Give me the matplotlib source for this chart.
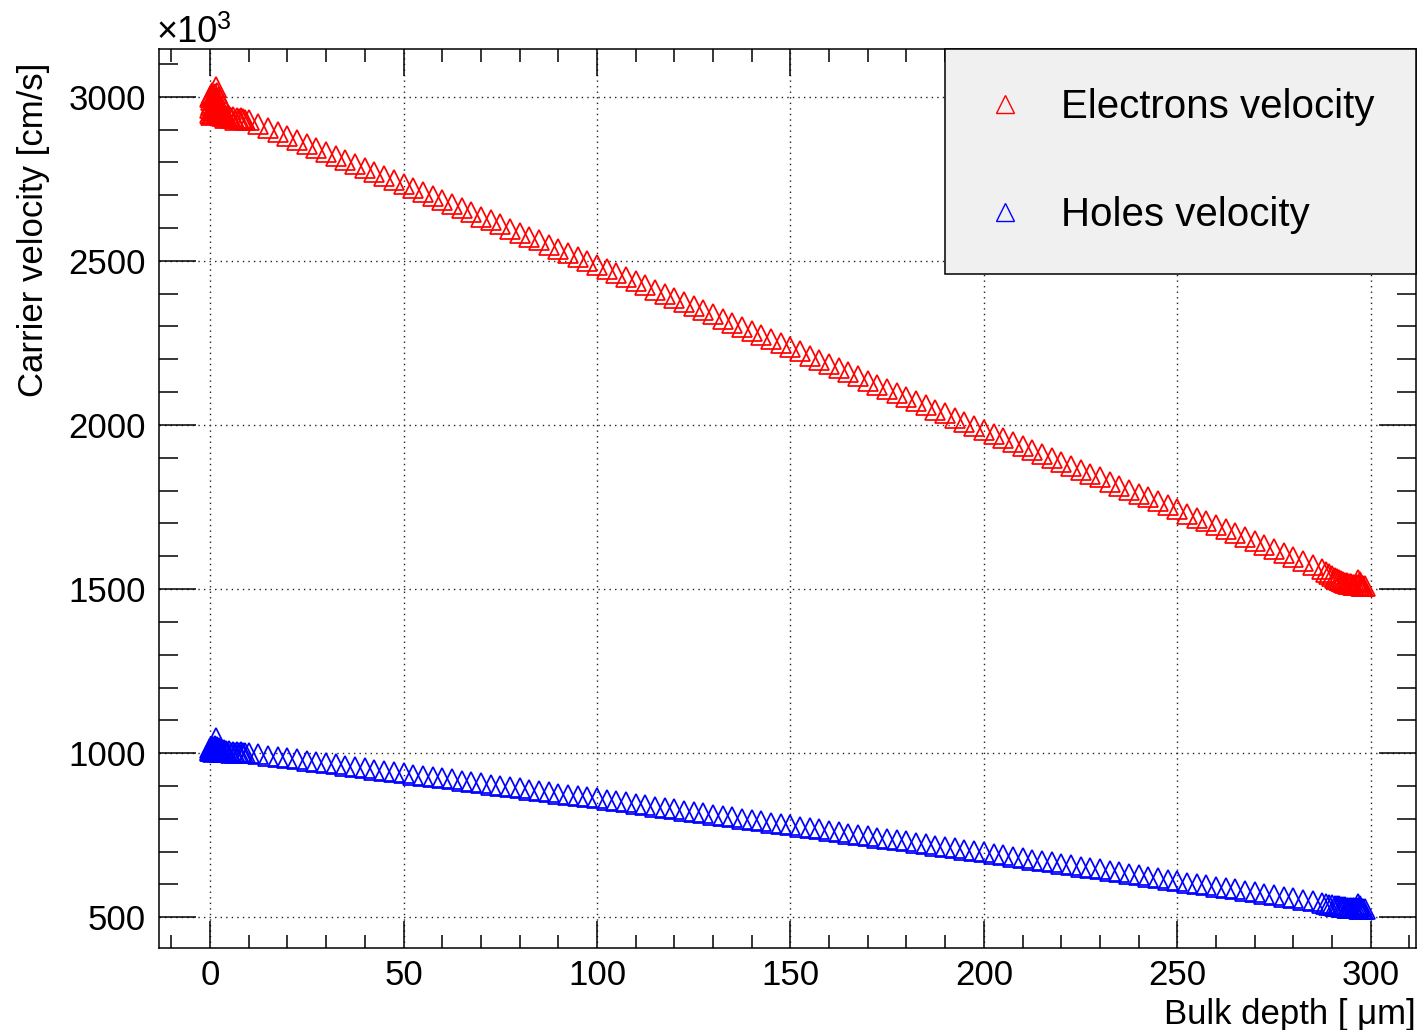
import matplotlib
matplotlib.use("Agg")
import matplotlib.pyplot as plt
from matplotlib.ticker import MultipleLocator
import numpy as np

plt.rcParams["font.family"] = ["Liberation Sans", "DejaVu Sans"]

# Drift velocities along the sensor bulk, in units of 10^3 cm/s

# Region next to the front electrode (dense steps)
depth_start = [0.0, 0.05, 0.1, 0.15, 0.2, 0.25, 0.3, 0.4, 0.5, 0.6,
               0.7, 0.8, 0.9, 1.0, 1.1, 1.2, 1.3, 1.4, 1.5, 1.6,
               1.7, 1.8, 1.9, 2.0, 2.1, 2.2, 2.3, 2.4, 2.5, 2.6,
               2.8, 3.0, 3.2, 3.5, 3.8, 4.1, 4.5, 5.0, 5.5, 6.0,
               6.5, 7.0, 7.5, 8.0, 8.5, 9.0]
electrons_start = [2950, 2998, 2965, 3005, 2975, 2945, 2990, 3010, 2960, 2982,
                   2948, 3002, 2970, 2992, 2955, 3008, 2980, 2962, 3028, 2995,
                   2950, 3012, 2972, 2985, 2958, 3000, 2968, 2946, 2990, 2955,
                   2945, 2950, 2940, 2946, 2936, 2942, 2938, 2940, 2934, 2938,
                   2930, 2936, 2933, 2935, 2931, 2930]
holes_start = [1008, 1015, 1010, 1018, 1012, 1006, 1016, 1020, 1009, 1014,
               1005, 1019, 1011, 1016, 1007, 1021, 1013, 1009, 1045, 1015,
               1006, 1020, 1010, 1014, 1007, 1017, 1010, 1005, 1014, 1008,
               1005, 1008, 1004, 1010, 1003, 1008, 1004, 1006, 1002, 1005,
               1001, 1004, 1002, 1003, 1001, 1000]

# Bulk region
depth_main = [10, 12.5, 15, 17.5, 20, 22.5, 25, 27.5, 30, 32.5,
              35, 37.5, 40, 42.5, 45, 47.5, 50, 52.5, 55, 57.5,
              60, 62.5, 65, 67.5, 70, 72.5, 75, 77.5, 80, 82.5,
              85, 87.5, 90, 92.5, 95, 97.5, 100, 102.5, 105, 107.5,
              110, 112.5, 115, 117.5, 120, 122.5, 125, 127.5, 130, 132.5,
              135, 137.5, 140, 142.5, 145, 147.5, 150, 152.5, 155, 157.5,
              160, 162.5, 165, 167.5, 170, 172.5, 175, 177.5, 180, 182.5,
              185, 187.5, 190, 192.5, 195, 197.5, 200, 202.5, 205, 207.5,
              210, 212.5, 215, 217.5, 220, 222.5, 225, 227.5, 230, 232.5,
              235, 237.5, 240, 242.5, 245, 247.5, 250, 252.5, 255, 257.5,
              260, 262.5, 265, 267.5, 270, 272.5, 275, 277.5, 280, 282.5,
              285, 287.5]
electrons_main = [2930, 2918, 2905, 2893, 2881, 2869, 2856, 2844, 2832, 2820,
                  2807, 2795, 2783, 2770, 2758, 2746, 2734, 2721, 2709, 2697,
                  2684, 2672, 2660, 2648, 2635, 2623, 2611, 2598, 2586, 2574,
                  2562, 2549, 2537, 2525, 2512, 2500, 2488, 2475, 2463, 2450,
                  2437, 2425, 2412, 2400, 2387, 2375, 2362, 2349, 2337, 2324,
                  2312, 2299, 2286, 2274, 2261, 2249, 2236, 2224, 2211, 2198,
                  2186, 2173, 2161, 2148, 2135, 2123, 2110, 2098, 2085, 2073,
                  2060, 2047, 2035, 2022, 2010, 1997, 1985, 1973, 1961, 1949,
                  1937, 1924, 1912, 1900, 1888, 1876, 1864, 1852, 1840, 1827,
                  1815, 1803, 1791, 1779, 1767, 1755, 1743, 1730, 1718, 1706,
                  1694, 1682, 1670, 1658, 1646, 1633, 1621, 1609, 1597, 1585,
                  1573, 1561]
holes_main = [1000, 996, 992, 989, 985, 981, 977, 973, 969, 966,
              962, 958, 954, 950, 946, 943, 939, 935, 931, 927,
              923, 920, 916, 912, 908, 904, 900, 897, 893, 889,
              885, 881, 877, 874, 870, 866, 862, 858, 854, 850,
              846, 841, 837, 833, 829, 825, 821, 817, 813, 809,
              805, 800, 796, 792, 788, 784, 780, 776, 772, 768,
              764, 759, 755, 751, 747, 743, 739, 735, 731, 727,
              723, 718, 714, 710, 706, 702, 698, 694, 689, 685,
              681, 676, 672, 668, 663, 659, 654, 650, 646, 641,
              637, 633, 628, 624, 620, 615, 611, 606, 602, 598,
              593, 589, 585, 580, 576, 572, 567, 563, 559, 554,
              550, 545]

# Region next to the back electrode (dense steps)
depth_end = [288.5, 289.3, 290.0, 290.7, 291.3, 291.9, 292.4, 292.9, 293.4,
             293.8, 294.2, 294.6, 295.0, 295.4, 295.8, 296.2, 296.6, 297.0,
             297.4, 297.8, 298.1, 298.4, 296.8, 297.2]
electrons_end = [1552, 1546, 1540, 1535, 1531, 1527, 1524, 1521, 1519,
                 1517, 1516, 1515, 1514, 1513, 1512, 1512, 1511, 1511,
                 1510, 1510, 1509, 1509, 1528, 1520]
holes_end = [542, 539, 537, 535, 534, 533, 532, 531, 530,
             529, 529, 528, 528, 528, 527, 527, 527, 526,
             526, 526, 525, 525, 540, 533]

depth = np.concatenate([depth_start, depth_main, depth_end])
electrons = np.concatenate([electrons_start, electrons_main, electrons_end])
holes = np.concatenate([holes_start, holes_main, holes_end])

fig = plt.figure(figsize=(14.22, 10.30), dpi=100)
fig.patch.set_facecolor("white")
ax = fig.add_axes([0.11181, 0.07961, 0.88397, 0.87330])

marker_kw = dict(ls="none", marker="^", ms=14.5, mfc="none", mew=1.25)
ax.plot(depth, electrons, mec="#ff0000", label="Electrons velocity", **marker_kw)
ax.plot(depth, holes, mec="#0000ff", label="Holes velocity", **marker_kw)

ax.set_xlim(-13.2, 311.7)
ax.set_ylim(406.5, 3146.8)

ax.xaxis.set_major_locator(MultipleLocator(50))
ax.xaxis.set_minor_locator(MultipleLocator(10))
ax.yaxis.set_major_locator(MultipleLocator(500))
ax.yaxis.set_minor_locator(MultipleLocator(100))

ax.grid(True, which="major", color="#222222", linestyle=(0, (1, 3)), linewidth=1.0)
ax.set_axisbelow(True)

ax.tick_params(axis="both", which="both", direction="in", top=True, right=True,
               colors="black", width=1.1, labelsize=25)
ax.tick_params(axis="x", which="major", length=19.4, pad=8)
ax.tick_params(axis="x", which="minor", length=9.7)
ax.tick_params(axis="y", which="major", length=26.6, pad=9.5)
ax.tick_params(axis="y", which="minor", length=13.7)
for spine in ax.spines.values():
    spine.set_linewidth(1.1)
    spine.set_color("black")

# Axis titles (right / top aligned)
ax.text(1.0, -0.084, "Bulk depth [ \u03bcm]", transform=ax.transAxes,
        ha="right", va="baseline", fontsize=25)
ax.text(-0.1002, 0.9844, "Carrier velocity [cm/s]", transform=ax.transAxes,
        rotation=90, ha="center", va="top", fontsize=25)

# Common exponent of the y axis
ax.text(-0.0016, 1.0067, "\u00d710", transform=ax.transAxes,
        ha="left", va="baseline", fontsize=26)
ax.text(0.0465, 1.0215, "3", transform=ax.transAxes,
        ha="left", va="baseline", fontsize=18)

x0 = (945 - 159) / 1257
leg = ax.legend(loc="upper right", bbox_to_anchor=(x0, 0.0, 1.0 - x0, 1.0),
                mode="expand", borderaxespad=0.0, fontsize=29,
                borderpad=0.98, labelspacing=1.74, handlelength=1.0,
                handletextpad=0.9, fancybox=False, framealpha=1.0,
                facecolor="#f0f0f0", edgecolor="black", numpoints=1)
leg.get_frame().set_linewidth(1.1)
for handle in leg.legend_handles:
    handle.set_markersize(13.5)
    handle.set_markeredgewidth(1.0)

fig.savefig("out.png", dpi=100, facecolor="white")
